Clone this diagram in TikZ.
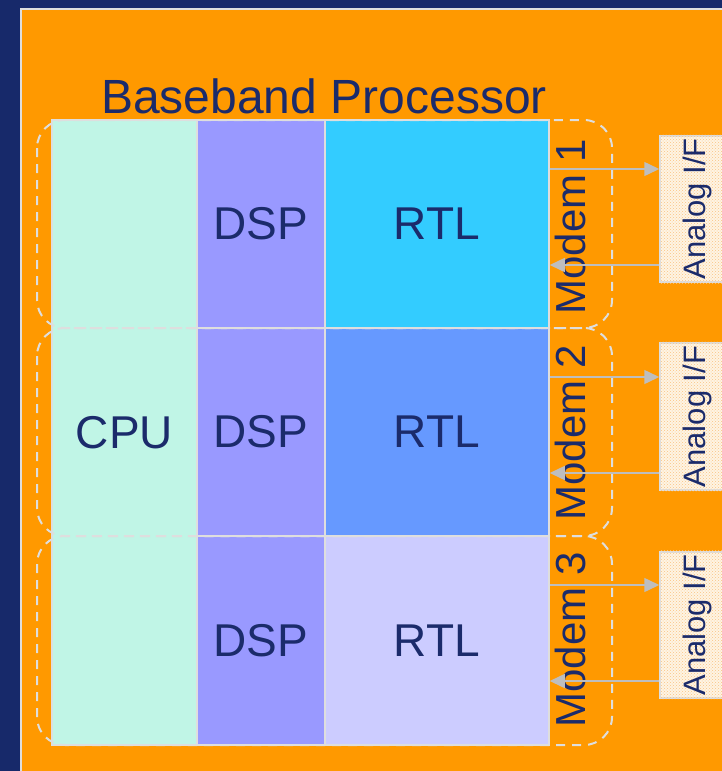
\documentclass[tikz,border=0pt]{standalone}
\usepackage{fontspec}
\setmainfont{Liberation Sans}
\usetikzlibrary{arrows.meta,patterns}

\definecolor{navy}{RGB}{23,41,106}
\definecolor{textnavy}{RGB}{27,43,107}
\definecolor{panel}{RGB}{255,153,0}
\definecolor{cpuc}{RGB}{192,245,230}
\definecolor{dspc}{RGB}{153,153,255}
\definecolor{rtla}{RGB}{51,204,255}
\definecolor{rtlb}{RGB}{102,153,255}
\definecolor{rtlc}{RGB}{204,204,255}
\definecolor{rule}{RGB}{222,222,222}
\definecolor{arrowc}{RGB}{190,190,190}
\definecolor{anafill}{RGB}{254,244,228}
\definecolor{anadot}{RGB}{250,196,130}

\begin{document}
\begin{tikzpicture}[x=1pt,y=-1pt,
  cell/.style={draw=rule, line width=1.5pt, inner sep=0pt, text=textnavy,
    font=\fontsize{46}{50}\selectfont},
  modemline/.style={draw=rule, line width=2pt, dash pattern=on 9pt off 7pt,
    rounded corners=28pt},
  modemlabel/.style={rotate=90, anchor=base, inner sep=0pt, text=textnavy,
    font=\fontsize{42}{46}\selectfont},
  anabox/.style={draw=rule, line width=1.5pt, fill=anafill, inner sep=0pt,
    minimum width=66pt},
  analabel/.style={rotate=90, anchor=base, inner sep=0pt, text=textnavy,
    font=\fontsize{31}{34}\selectfont},
  sig/.style={draw=arrowc, line width=1.5pt, -{Triangle[length=15pt,width=14pt]}}
]
\useasboundingbox (0,0) rectangle (722,771);
\clip (0,0) rectangle (722,771);

% slide background and orange panel
\fill[navy] (0,0) rectangle (722,771);
\draw[fill=panel, draw=rule, line width=1.5pt] (21,9) rectangle (740,790);

% title
\node[anchor=base west, inner sep=0pt, text=textnavy,
  font=\fontsize{48}{52}\selectfont] (title) at (101,113) {Baseband Processor};

% processor blocks
\node[cell, fill=cpuc, minimum width=145pt, minimum height=625pt] (cpu) at (124.5,432.5) {CPU};
\node[cell, fill=dspc, minimum width=128pt, minimum height=208pt] (dsp1) at (261,224) {DSP};
\node[cell, fill=dspc, minimum width=128pt, minimum height=208pt] (dsp2) at (261,432) {DSP};
\node[cell, fill=dspc, minimum width=128pt, minimum height=209pt] (dsp3) at (261,640.5) {DSP};
\node[cell, fill=rtla, minimum width=224pt, minimum height=208pt] (rtl1) at (437,224) {RTL};
\node[cell, fill=rtlb, minimum width=224pt, minimum height=208pt] (rtl2) at (437,432) {RTL};
\node[cell, fill=rtlc, minimum width=224pt, minimum height=209pt] (rtl3) at (437,640.5) {RTL};

% modem groupings
\draw[modemline] (37,120) rectangle (612,328);
\draw[modemline] (37,328) rectangle (612,536);
\draw[modemline] (37,536) rectangle (612,745);

\node[modemlabel] (m1) at (585,227) {Modem 1};
\node[modemlabel] (m2) at (585,433) {Modem 2};
\node[modemlabel] (m3) at (585,640) {Modem 3};

% analog interfaces
\node[anabox, minimum height=146pt] (an1) at (693,209) {};
\node[anabox, minimum height=147pt] (an2) at (693,416.5) {};
\node[anabox, minimum height=146pt] (an3) at (693,625) {};
\foreach \b in {an1,an2,an3}{
  \fill[pattern=crosshatch dots, pattern color=anadot]
    ([shift={(1pt,-1pt)}]\b.south west) rectangle ([shift={(-1pt,1pt)}]\b.north east);
}
\node[analabel] (al1) at (705,209) {Analog I/F};
\node[analabel] (al2) at (705,416.5) {Analog I/F};
\node[analabel] (al3) at (705,625) {Analog I/F};

% signal paths between RTL blocks and analog interfaces
\draw[sig] (rtl1.east |- 0,169) -- (an1.west |- 0,169);
\draw[sig] (an1.west |- 0,265) -- (rtl1.east |- 0,265);
\draw[sig] (rtl2.east |- 0,377) -- (an2.west |- 0,377);
\draw[sig] (an2.west |- 0,473) -- (rtl2.east |- 0,473);
\draw[sig] (rtl3.east |- 0,585) -- (an3.west |- 0,585);
\draw[sig] (an3.west |- 0,681) -- (rtl3.east |- 0,681);
\end{tikzpicture}
\end{document}
